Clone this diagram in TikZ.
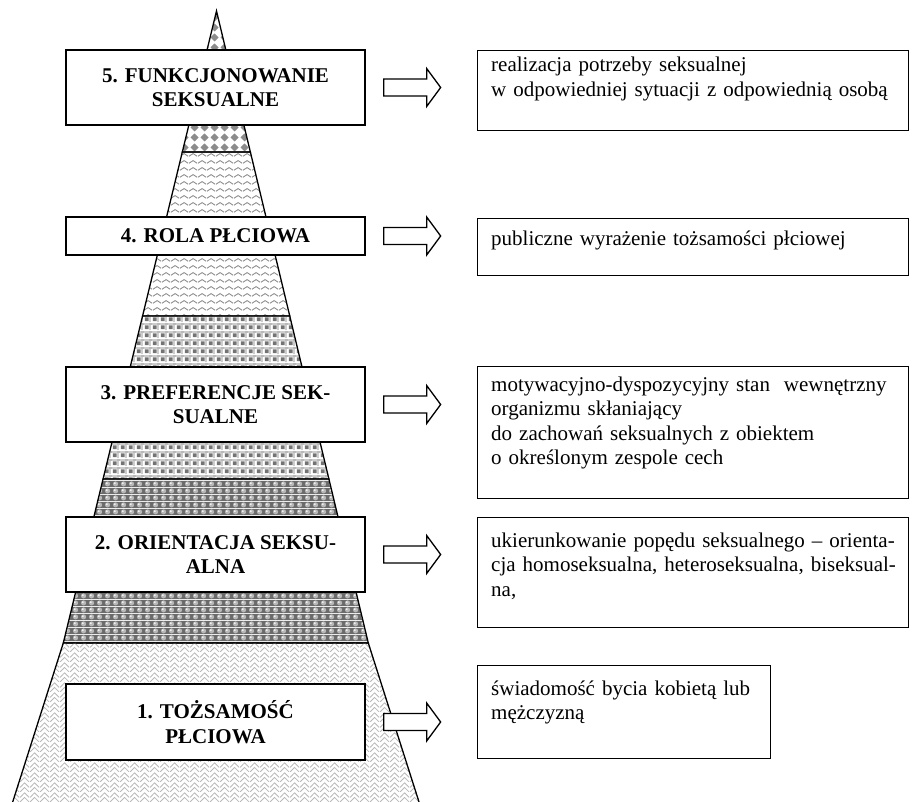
\documentclass[tikz,border=0pt]{standalone}
\usepackage{fontspec}
\setmainfont{Liberation Serif}
\usetikzlibrary{calc, patterns}

% fill patterns of the pyramid bands
\pgfdeclarepatternformonly{diamondgrid}{\pgfpointorigin}{\pgfpoint{10pt}{10pt}}{\pgfpoint{10pt}{10pt}}{%
  \pgfpathmoveto{\pgfpoint{5pt}{0.6pt}}%
  \pgfpathlineto{\pgfpoint{9.4pt}{5pt}}%
  \pgfpathlineto{\pgfpoint{5pt}{9.4pt}}%
  \pgfpathlineto{\pgfpoint{0.6pt}{5pt}}%
  \pgfpathclose
  \pgfusepath{fill}}

\pgfdeclarepatternformonly{zigwave}{\pgfpointorigin}{\pgfpoint{9pt}{7pt}}{\pgfpoint{9pt}{7pt}}{%
  \pgfsetlinewidth{1pt}%
  \pgfpathmoveto{\pgfpoint{0pt}{2pt}}%
  \pgfpathcurveto{\pgfpoint{1.8pt}{2pt}}{\pgfpoint{2.7pt}{5pt}}{\pgfpoint{4.5pt}{5pt}}%
  \pgfpathcurveto{\pgfpoint{6.3pt}{5pt}}{\pgfpoint{7.2pt}{2pt}}{\pgfpoint{9pt}{2pt}}%
  \pgfusepath{stroke}}

\pgfdeclarepatterninherentlycolored{plaid}{\pgfpointorigin}{\pgfpoint{8pt}{8pt}}{\pgfpoint{8pt}{8pt}}{%
  \pgfsetfillcolor{black!30}%
  \pgfpathrectangle{\pgfpoint{0pt}{6pt}}{\pgfpoint{8pt}{1.4pt}}%
  \pgfpathrectangle{\pgfpoint{6pt}{0pt}}{\pgfpoint{1.4pt}{8pt}}%
  \pgfusepath{fill}%
  \pgfsetfillcolor{black!55}%
  \pgfpathrectangle{\pgfpoint{1pt}{1pt}}{\pgfpoint{4.2pt}{4.2pt}}%
  \pgfusepath{fill}}

\pgfdeclarepatterninherentlycolored{spheres}{\pgfpointorigin}{\pgfpoint{8pt}{7pt}}{\pgfpoint{8pt}{7pt}}{%
  \pgfsetfillcolor{black!58}%
  \pgfpathrectangle{\pgfpointorigin}{\pgfpoint{8pt}{7pt}}%
  \pgfusepath{fill}%
  \pgfsetfillcolor{black!28}%
  \pgfpathcircle{\pgfpoint{4pt}{3.5pt}}{2.9pt}%
  \pgfusepath{fill}%
  \pgfsetfillcolor{white}%
  \pgfpathcircle{\pgfpoint{3.2pt}{4.4pt}}{1.1pt}%
  \pgfusepath{fill}}

\pgfdeclarepatternformonly{weave}{\pgfpointorigin}{\pgfpoint{10pt}{10pt}}{\pgfpoint{10pt}{10pt}}{%
  \pgfsetlinewidth{0.9pt}%
  \pgfpathmoveto{\pgfpoint{0pt}{0pt}}\pgfpathlineto{\pgfpoint{5pt}{5pt}}\pgfpathlineto{\pgfpoint{10pt}{0pt}}%
  \pgfpathmoveto{\pgfpoint{0pt}{5pt}}\pgfpathlineto{\pgfpoint{5pt}{10pt}}\pgfpathlineto{\pgfpoint{10pt}{5pt}}%
  \pgfusepath{stroke}}

% one band of the pyramid between two heights
\newcommand{\pyrband}[3]{%
  \draw[#3, line width=1.3pt]
    ($(apex)!{(#1-11)/632}!(bl)$) -- ($(apex)!{(#2-11)/632}!(bl)$) --
    ($(apex)!{(#2-11)/632}!(br)$) -- ($(apex)!{(#1-11)/632}!(br)$) -- cycle;}

\begin{document}
\begin{tikzpicture}[x=1pt, y=-1pt,
    levelbox/.style={draw, fill=white, line width=1.3pt, minimum width=299pt,
      inner sep=0pt, align=center, font=\fontsize{21}{24.5}\selectfont\bfseries},
    descbox/.style={draw, fill=white, line width=1.3pt, anchor=north west, inner sep=0pt},
    desctext/.style={anchor=base west, inner sep=0pt, text width=420pt, align=left,
      font=\fontsize{21}{24.5}\selectfont},
    blockarrow/.style={draw, fill=white, line width=1.3pt, line join=miter}]

	\useasboundingbox (0,0) rectangle (912,802);

	%pyramid
	\coordinate (apex) at (216.5,11);
	\coordinate (bl) at (63.3,643);
	\coordinate (br) at (368.3,643);
	\coordinate (fl) at (11.4,806);
	\coordinate (fr) at (420.3,806);

	\pyrband{11}{152}{pattern=diamondgrid, pattern color=black!45}
	\pyrband{152}{316}{pattern=zigwave, pattern color=black!45}
	\pyrband{316}{479}{pattern=plaid}
	\pyrband{479}{643}{pattern=spheres}
	\draw[pattern=weave, pattern color=black!28, line width=1.3pt] (bl) -- (br) -- (fr) -- (fl) -- cycle;

	%levels
	\node[levelbox, minimum height=75pt] (l5) at (215.5,87.5) {5. FUNKCJONOWANIE\\SEKSUALNE};
	\node[levelbox, minimum height=38pt] (l4) at (215.5,236) {4. ROLA PŁCIOWA};
	\node[levelbox, minimum height=75pt] (l3) at (215.5,404.5) {3. PREFERENCJE SEK-\\SUALNE};
	\node[levelbox, minimum height=75pt] (l2) at (215.5,554.5) {2. ORIENTACJA SEKSU-\\ALNA};
	\node[levelbox, minimum height=76pt] (l1) at (215.5,722) {1. TOŻSAMOŚĆ\\PŁCIOWA};

	%descriptions
	\node[descbox, minimum width=431pt, minimum height=80pt] (d5) at (477,50) {};
	\node[descbox, minimum width=431pt, minimum height=57pt] (d4) at (477,218) {};
	\node[descbox, minimum width=431pt, minimum height=132pt] (d3) at (477,366) {};
	\node[descbox, minimum width=431pt, minimum height=110pt] (d2) at (477,517) {};
	\node[descbox, minimum width=293pt, minimum height=93pt] (d1) at (477,665) {};

	\node[desctext] (t5) at ([shift={(14,22)}]d5.north west)
		{realizacja potrzeby seksualnej\\w odpowiedniej sytuacji z odpowiednią osobą};
	\node[desctext] (t4) at ([shift={(14,27)}]d4.north west)
		{publiczne wyrażenie tożsamości płciowej};
	\node[desctext] (t3) at ([shift={(14,25)}]d3.north west)
		{motywacyjno-dyspozycyjny stan\ \ wewnętrzny\\organizmu skłaniający\\do zachowań seksualnych z obiektem\\o określonym zespole cech};
	\node[desctext] (t2) at ([shift={(14,30)}]d2.north west)
		{ukierunkowanie popędu seksualnego – orienta-\\cja homoseksualna, heteroseksualna, biseksual-\\na,};
	\node[desctext] (t1) at ([shift={(14,30)}]d1.north west)
		{świadomość bycia kobietą lub\\mężczyzną};

	%arrows
	\foreach \lvl in {1,...,5}
		\draw[blockarrow] ([xshift=18]l\lvl.east) ++(0,-8.5) -- ++(43,0) -- ++(0,-10.5)
			-- ++(14,19) -- ++(-14,19) -- ++(0,-10.5) -- ++(-43,0) -- cycle;

\end{tikzpicture}
\end{document}
